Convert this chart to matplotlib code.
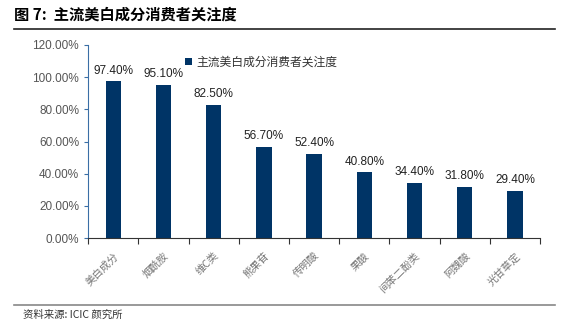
import matplotlib
matplotlib.use('Agg')
import matplotlib.pyplot as plt
from matplotlib.lines import Line2D
from matplotlib.ticker import FuncFormatter

plt.rcParams['font.family'] = ['Noto Sans CJK SC', 'DejaVu Sans']

# 成分及关注度(%)
ingredients = ['美白成分', '烟酰胺', '维C类', '熊果苷', '传明酸', '果酸', '间苯二酚类', '阿魏酸', '光甘草定']
attention = [97.40, 95.10, 82.50, 56.70, 52.40, 40.80, 34.40, 31.80, 29.40]

navy = '#003466'
grey = '#555555'

fig = plt.figure(figsize=(5.69, 3.33), dpi=100)
ax = fig.add_axes([0.155, 0.285, 0.794, 0.58])

x = range(len(ingredients))
bars = ax.bar(x, attention, width=0.31, color=navy, label='主流美白成分消费者关注度')
for xi, v in zip(x, attention):
    ax.text(xi, v + 3, f'{v:.2f}%', ha='center', va='bottom', fontsize=8.5,
            color='#222222', family=['Liberation Sans', 'DejaVu Sans'])

ax.set_xlim(-0.5, len(ingredients) - 0.5)
ax.set_ylim(0, 120)
ax.set_yticks(range(0, 121, 20))
ax.yaxis.set_major_formatter(FuncFormatter(lambda v, p: f'{v:.2f}%'))
for lab in ax.get_yticklabels():
    lab.set_family(['Liberation Sans', 'DejaVu Sans'])
ax.tick_params(axis='y', labelsize=8.5, labelcolor=grey, color='#3a6ea5', length=3)

ax.set_xticks([i + 0.5 for i in range(-1, len(ingredients))], minor=False)
ax.set_xticklabels([])
ax.set_xticks(list(x), minor=True)
ax.set_xticklabels(ingredients, minor=True, rotation=45, ha='right', rotation_mode='anchor',
                   fontsize=7.5, color='#777777')
ax.tick_params(axis='x', which='major', length=4, color='#333333')
ax.tick_params(axis='x', which='minor', length=0, pad=9)

for side in ['top', 'right']:
    ax.spines[side].set_visible(False)
ax.spines['left'].set_color('#3a6ea5')
ax.spines['bottom'].set_color('#333333')

ax.legend(loc='upper left', bbox_to_anchor=(0.19, 1.0), frameon=False, fontsize=8.5,
          handlelength=0.6, handleheight=0.6, handletextpad=0.4, labelcolor='#333333')

fig.text(0.025, 0.955, '图 7:  主流美白成分消费者关注度', fontsize=11, fontweight='bold',
         va='center', ha='left')
fig.add_artist(Line2D([0.025, 0.975], [0.913, 0.913], color='#222222', lw=1.2))
fig.add_artist(Line2D([0.025, 0.975], [0.084, 0.084], color='#888888', lw=1.2))
fig.text(0.04, 0.055, '资料来源: ICIC 颜究所', fontsize=7.5, va='center', ha='left', color='#333333')

fig.savefig('out.png', dpi=100)
